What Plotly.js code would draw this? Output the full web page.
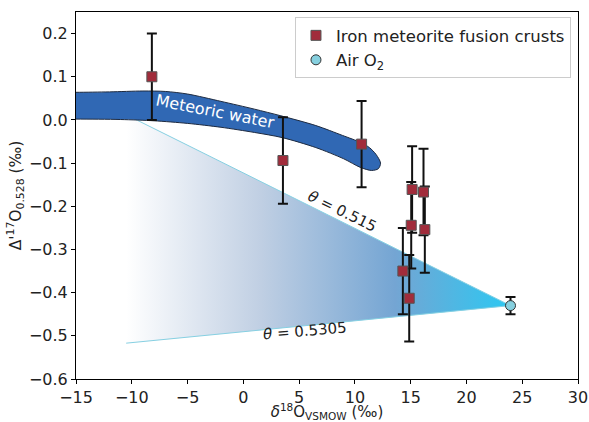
<!DOCTYPE html>
<html>
<head>
<meta charset="utf-8">
<script src="https://cdn.plot.ly/plotly-3.0.1.min.js"></script>
<style>html,body{margin:0;padding:0;background:#fff;}#chart{width:589px;height:422px;}</style>
</head>
<body>
<div id="chart"></div>
<script>
// Iron meteorite fusion crusts
const ironX = [-8.2, 3.55, 10.6, 15.13, 16.15, 15.05, 16.27, 14.3, 14.87];
const ironY = [0.100, -0.094, -0.056, -0.161, -0.167, -0.244, -0.254, -0.350, -0.413];
const ironErr = [0.1, 0.1, 0.1, 0.1, 0.1, 0.1, 0.1, 0.1, 0.1];
// Air O2
const airX = [23.95];
const airY = [-0.430];
const airErr = [0.02];
// Meteoric water band outline (left end lies beyond the axis and is clipped)
const bandUpperX = [-18, -15, -12, -9, -7, -5, -2, 1, 3.3, 6.5, 8.9, 10.5, 11.3, 11.9, 12.3];
const bandUpperY = [0.064, 0.064, 0.065, 0.067, 0.066, 0.060, 0.043, 0.025, 0.010, -0.013, -0.036, -0.052, -0.064, -0.080, -0.100];
const bandLowerX = [12.1, 11.5, 10.5, 9, 6.5, 3.5, 1, -2, -5, -8, -11, -15, -18];
const bandLowerY = [-0.113, -0.117, -0.110, -0.090, -0.064, -0.041, -0.029, -0.017, -0.008, -0.002, 0.001, 0.002, 0.002];
// Mixing triangle (theta lines)
const triX = [-10.5, 23.95, -10.5];
const triY = [0.012, -0.430, -0.517];

const font = "DejaVu Sans, Liberation Sans, sans-serif";

const traces = [
  {
    x: triX, y: triY, type: 'scatter', mode: 'lines', fill: 'toself',
    line: {color: 'rgba(0,0,0,0)', width: 0},
    fillgradient: {type: 'horizontal', start: -10.5, stop: 23.95,
      colorscale: [[0, 'rgba(255,255,255,1)'], [0.35, '#c0cfe3'], [0.7, '#74a5d3'], [1, '#2cc8f2']]},
    showlegend: false, hoverinfo: 'skip'
  },
  {
    x: [triX[0], triX[1], triX[2]], y: [triY[0], triY[1], triY[2]],
    type: 'scatter', mode: 'lines', line: {color: '#86d0e2', width: 1},
    showlegend: false, hoverinfo: 'skip'
  },
  {
    x: bandUpperX.concat(bandLowerX),
    y: bandUpperY.concat(bandLowerY),
    type: 'scatter', mode: 'lines', fill: 'toself',
    fillcolor: '#3068b4', line: {color: '#1d2a40', width: 1, shape: 'spline', smoothing: 0.8},
    showlegend: false, hoverinfo: 'skip'
  },
  {
    x: ironX, y: ironY, type: 'scatter', mode: 'markers', name: 'Iron meteorite fusion crusts',
    marker: {symbol: 'square', size: 10, color: '#a12c3b', line: {color: '#555555', width: 1}},
    error_y: {type: 'data', array: ironErr, visible: true, color: '#111111', thickness: 2, width: 5}
  },
  {
    x: airX, y: airY, type: 'scatter', mode: 'markers', name: 'Air O<sub>2</sub>',
    marker: {symbol: 'circle', size: 10, color: '#86d0df', line: {color: '#333333', width: 1}},
    error_y: {type: 'data', array: airErr, visible: true, color: '#111111', thickness: 2, width: 5}
  }
];

const layout = {
  width: 589, height: 422,
  margin: {l: 76, r: 11, t: 12, b: 43},
  paper_bgcolor: '#ffffff', plot_bgcolor: '#ffffff',
  font: {family: font, size: 15, color: '#222222'},
  showlegend: true,
  legend: {x: 0.986, y: 0.986, xanchor: 'right', yanchor: 'top',
    bgcolor: 'rgba(255,255,255,0.85)', bordercolor: '#cccccc', borderwidth: 1,
    font: {family: font, size: 16.5, color: '#222222'}},
  xaxis: {
    range: [-15, 30], dtick: 5, tick0: -15, showgrid: false, zeroline: false,
    showline: true, linecolor: '#000000', linewidth: 1, mirror: true,
    ticks: 'outside', ticklen: 4, tickcolor: '#000000',
    tickfont: {family: font, size: 16, color: '#222222'},
    title: {text: '<i>δ</i><sup>18</sup>O<sub>VSMOW</sub> (‰)', font: {family: font, size: 15, color: '#222222'}, standoff: 11}
  },
  yaxis: {
    range: [-0.6, 0.25], dtick: 0.1, tick0: 0, tickformat: '.1f', showgrid: false, zeroline: false,
    showline: true, linecolor: '#000000', linewidth: 1, mirror: true,
    ticks: 'outside', ticklen: 4, tickcolor: '#000000',
    tickfont: {family: font, size: 16, color: '#222222'},
    title: {text: 'Δ\'<sup>17</sup>O<sub>0.528</sub> (‰)', font: {family: font, size: 15.5, color: '#222222'}, standoff: 3}
  },
  annotations: [
    {x: -2.5, y: 0.02, xref: 'x', yref: 'y', text: 'Meteoric water', showarrow: false,
      textangle: 11, font: {family: font, size: 16, color: '#ffffff'}},
    {x: 8.8, y: -0.212, xref: 'x', yref: 'y', text: '<i>θ</i> = 0.515', showarrow: false,
      textangle: 26, font: {family: font, size: 15, color: '#222222'}},
    {x: 5.5, y: -0.489, xref: 'x', yref: 'y', text: '<i>θ</i> = 0.5305', showarrow: false,
      textangle: -5, font: {family: font, size: 15, color: '#222222'}}
  ]
};

Plotly.newPlot('chart', traces, layout, {displayModeBar: false, staticPlot: true});
</script>
</body>
</html>
